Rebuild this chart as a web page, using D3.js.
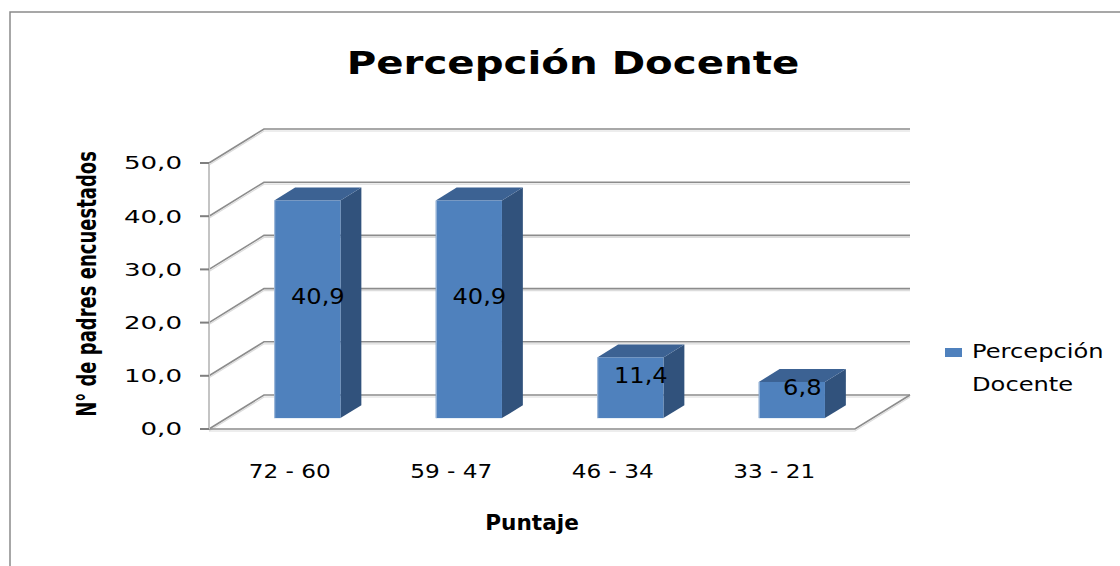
<!DOCTYPE html>
<html>
<head>
<meta charset="utf-8">
<script src="https://cdn.jsdelivr.net/npm/d3@7"></script>
<style>
    html, body { margin: 0; padding: 0; background: #fff; }
    svg { display: block; }
</style>
</head>
<body>
<svg id="chart"></svg>
<script>
// chart data
var categories = ['72 - 60', '59 - 47', '46 - 34', '33 - 21'],
    values = [40.9, 40.9, 11.4, 6.8],
    yTicks = [0, 10, 20, 30, 40, 50],
    seriesName = ['Percepción', 'Docente'],
    title = 'Percepción Docente',
    xTitle = 'Puntaje',
    yTitle = 'N° de padres encuestados';

var width = 1120,
    height = 566,
    depthX = 55,       // full floor depth, screen offset
    depthY = -34,
    zFront = 0.32,     // bar front / back inside the depth
    zBack = 0.70,
    grid = '#8c8c8c',
    fmt = function (v) { return d3.format('.1f')(v).replace('.', ','); };

var svg = d3.select('#chart')
    .attr('width', width)
    .attr('height', height);

var x = d3.scaleBand()
        .domain(categories)
        .range([209, 855])
        .paddingInner(0.59)
        .paddingOuter(0.295),
    y = d3.scaleLinear()
        .domain([0, 50])
        .range([429, 163]);

// text is horizontally stretched in the original picture
function place(sel, px, py, sx, rot) {
    sel.attr('transform', 'translate(' + px + ',' + py + ') scale(' + sx + ',1)' + (rot ? ' rotate(' + rot + ')' : ''));
    return sel;
}

// outer border
svg.append('path')
    .attr('d', 'M10,' + height + 'V12H' + width)
    .attr('fill', 'none')
    .attr('stroke', '#8a8a8a')
    .attr('stroke-width', 1.5);

// title
place(svg.append('text'), 573, 74, 1.28)
    .attr('text-anchor', 'middle')
    .attr('font-family', 'DejaVu Sans')
    .attr('font-weight', 'bold')
    .attr('font-size', 31.5)
    .attr('fill', '#000')
    .text(title);

var x0 = x.range()[0],
    x1 = x.range()[1],
    walls = svg.append('g');

// back wall gridlines + left wall diagonals
yTicks.forEach(function (v) {
    [[2, '#dcdcdc', 1.2], [0, grid, 1.6]].forEach(function (s) {
        walls.append('path')
            .attr('d', 'M' + x0 + ',' + (y(v) + s[0]) + 'L' + (x0 + depthX) + ',' + (y(v) + depthY + s[0]) + 'H' + (x1 + depthX))
            .attr('fill', 'none')
            .attr('stroke', s[1])
            .attr('stroke-width', s[2]);
    });
});

// floor front and right edges
[[2, '#dcdcdc', 1.2], [0, grid, 1.6]].forEach(function (s) {
    walls.append('path')
        .attr('d', 'M' + x0 + ',' + (y(0) + s[0]) + 'H' + x1 + 'L' + (x1 + depthX) + ',' + (y(0) + depthY + s[0]))
        .attr('fill', 'none')
        .attr('stroke', s[1])
        .attr('stroke-width', s[2]);
});

// value axis line and ticks
walls.append('line')
    .attr('x1', x0).attr('x2', x0)
    .attr('y1', y(50)).attr('y2', y(0))
    .attr('stroke', '#c4c4c4')
    .attr('stroke-width', 2);

var ticks = svg.append('g').selectAll('g')
    .data(yTicks)
    .enter().append('g');

ticks.append('line')
    .attr('x1', x0 - 9).attr('x2', x0)
    .attr('y1', function (d) { return y(d); })
    .attr('y2', function (d) { return y(d); })
    .attr('stroke', '#7f7f7f')
    .attr('stroke-width', 2);

ticks.append('text')
    .each(function (d) { place(d3.select(this), 182, y(d), 1.45); })
    .attr('text-anchor', 'end')
    .attr('dy', '0.36em')
    .attr('font-family', 'DejaVu Sans')
    .attr('font-size', 18)
    .attr('fill', '#000')
    .text(fmt);

// bars
var bw = x.bandwidth(),
    dz = zBack - zFront,
    bars = svg.append('g').selectAll('g')
        .data(categories.map(function (c, i) { return { cat: c, value: values[i] }; }))
        .enter().append('g');

function corners(d) {
    var xf = x(d.cat) + zFront * depthX,
        top = y(d.value) + zFront * depthY,
        bot = y(0) + zFront * depthY;
    return { xf: xf, top: top, bot: bot, ox: dz * depthX, oy: dz * depthY };
}

bars.append('path')
    .attr('d', function (d) {
        var k = corners(d);
        return 'M' + (k.xf + bw) + ',' + k.top + 'l' + k.ox + ',' + k.oy + 'V' + (k.bot + k.oy) + 'L' + (k.xf + bw) + ',' + k.bot + 'Z';
    })
    .attr('fill', '#31527c');

bars.append('path')
    .attr('d', function (d) {
        var k = corners(d);
        return 'M' + k.xf + ',' + k.top + 'l' + k.ox + ',' + k.oy + 'h' + bw + 'L' + (k.xf + bw) + ',' + k.top + 'Z';
    })
    .attr('fill', '#3c6293');

bars.append('rect')
    .attr('x', function (d) { return corners(d).xf; })
    .attr('y', function (d) { return corners(d).top; })
    .attr('width', bw)
    .attr('height', function (d) { var k = corners(d); return k.bot - k.top; })
    .attr('fill', '#4f81bd');

bars.append('line')
    .attr('x1', function (d) { return corners(d).xf + 0.5; })
    .attr('x2', function (d) { return corners(d).xf + 0.5; })
    .attr('y1', function (d) { return corners(d).top; })
    .attr('y2', function (d) { return corners(d).bot; })
    .attr('stroke', '#a9c0dd')
    .attr('stroke-width', 1);

// data labels, at the middle of the bar volume
var zMid = (zFront + zBack) / 2;
bars.append('text')
    .each(function (d) {
        place(d3.select(this), x(d.cat) + bw / 2 + zMid * depthX, y(d.value / 2) + zMid * depthY - 6, 1.15);
    })
    .attr('text-anchor', 'middle')
    .attr('dy', '0.36em')
    .attr('font-family', 'DejaVu Sans')
    .attr('font-size', 21)
    .attr('fill', '#000')
    .text(function (d) { return fmt(d.value); });

// category labels
svg.append('g').selectAll('text')
    .data(categories)
    .enter().append('text')
    .each(function (d) { place(d3.select(this), x(d) + bw / 2, 478, 1.16); })
    .attr('text-anchor', 'middle')
    .attr('font-family', 'DejaVu Sans')
    .attr('font-size', 20)
    .attr('fill', '#000')
    .text(function (d) { return d; });

// axis titles
place(svg.append('text'), (x0 + x1) / 2, 530, 1.03)
    .attr('text-anchor', 'middle')
    .attr('font-family', 'DejaVu Sans')
    .attr('font-weight', 'bold')
    .attr('font-size', 21)
    .attr('fill', '#000')
    .text(xTitle);

place(svg.append('text'), 96, 284, 1.45, -90)
    .attr('text-anchor', 'middle')
    .attr('font-family', 'DejaVu Sans')
    .attr('font-weight', 'bold')
    .attr('font-size', 18)
    .attr('fill', '#000')
    .text(yTitle);

// legend
var legend = svg.append('g');
legend.append('rect')
    .attr('x', 945).attr('y', 348)
    .attr('width', 17).attr('height', 9)
    .attr('fill', '#4f81bd');

legend.selectAll('text')
    .data(seriesName)
    .enter().append('text')
    .each(function (d, i) { place(d3.select(this), 972, 358 + i * 33, 1.24); })
    .attr('font-family', 'DejaVu Sans')
    .attr('font-size', 19.5)
    .attr('fill', '#000')
    .text(function (d) { return d; });
</script>
</body>
</html>
